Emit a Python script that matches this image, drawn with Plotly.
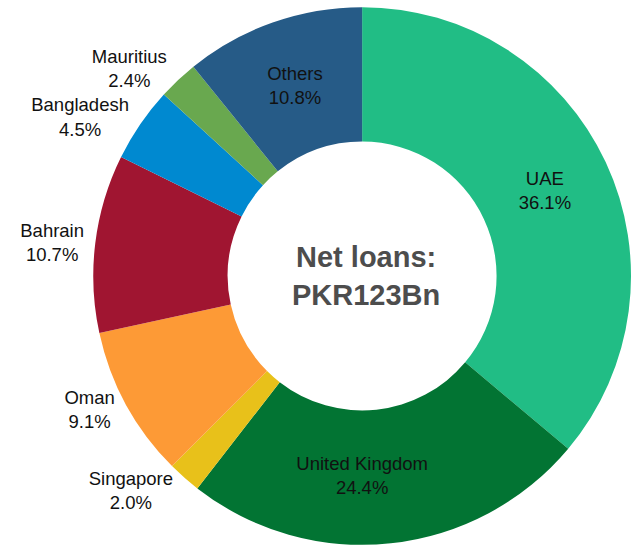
import plotly.graph_objects as go

countries = ["UAE", "United Kingdom", "Singapore", "Oman", "Bahrain", "Bangladesh", "Mauritius", "Others"]
shares = [36.1, 24.4, 2.0, 9.1, 10.7, 4.5, 2.4, 10.8]
colors = ["#21BD85", "#027433", "#E8C11A", "#FD9A36", "#A01531", "#0089D0", "#69A84F", "#265B87"]
text_pos = ["inside", "inside", "outside", "outside", "outside", "outside", "outside", "inside"]
center_text = "<b>Net loans:<br>PKR123Bn</b>"

W, H = 636, 551
dom_x = [94 / W, 1.0]
dom_y = [1 - 548 / H, 1 - 6 / H]
FONT = "Liberation Sans, Arial, sans-serif"

fig = go.Figure(go.Pie(
    labels=countries,
    values=shares,
    sort=False,
    direction="clockwise",
    rotation=0,
    hole=0.5,
    marker=dict(colors=colors, line=dict(width=0)),
    texttemplate="%{label}<br>%{value:.1f}%",
    textposition=text_pos,
    insidetextorientation="horizontal",
    textfont=dict(family=FONT, size=18.5, color="#111111"),
    outsidetextfont=dict(family=FONT, size=18.5, color="#111111"),
    insidetextfont=dict(family=FONT, size=18.5, color="#111111"),
    domain=dict(x=dom_x, y=dom_y),
    showlegend=False,
    hoverinfo="label+value",
))

fig.add_annotation(
    text=center_text,
    x=(dom_x[0] + dom_x[1]) / 2 + 0.006, y=(dom_y[0] + dom_y[1]) / 2,
    xref="paper", yref="paper", showarrow=False,
    font=dict(family=FONT, size=29, color="#4D4D4D"),
)

fig.update_layout(
    width=W, height=H,
    margin=dict(l=0, r=0, t=0, b=0),
    paper_bgcolor="white",
    plot_bgcolor="white",
)

fig.write_html("out.html", config={"displayModeBar": False},
               post_script="document.body.style.margin='0px';")
